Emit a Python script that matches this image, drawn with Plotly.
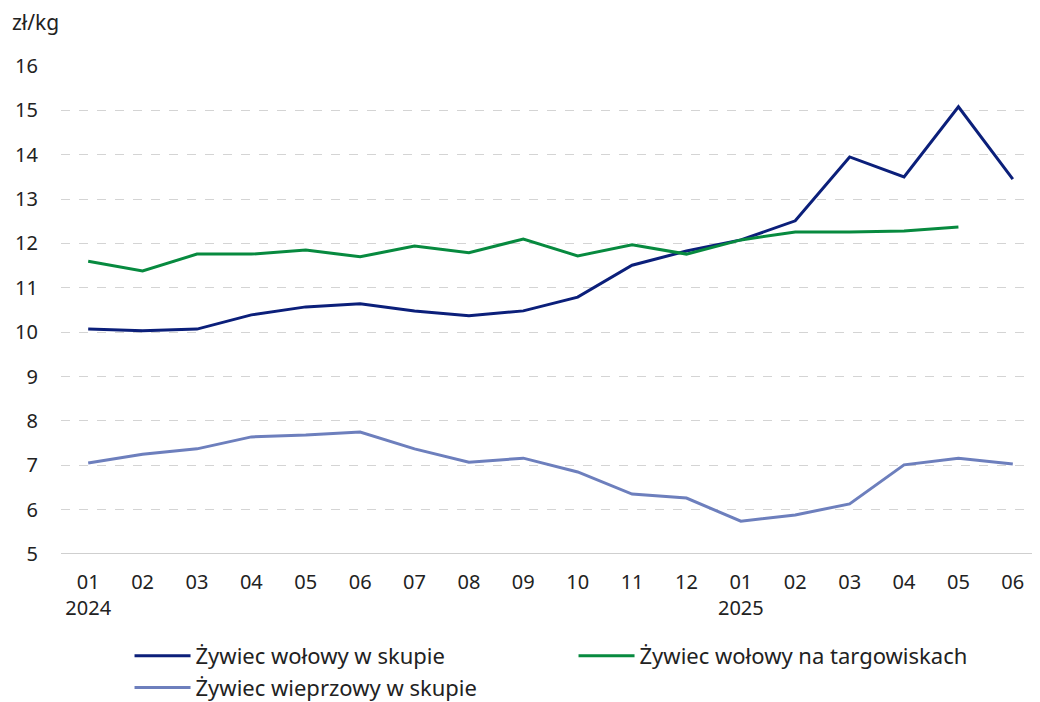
import plotly.graph_objects as go

months = ["01", "02", "03", "04", "05", "06", "07", "08", "09", "10", "11", "12",
          "01", "02", "03", "04", "05", "06"]
years = ["2024", "", "", "", "", "", "", "", "", "", "", "", "2025", "", "", "", "", ""]

beef_skup = [10.07, 10.03, 10.07, 10.39, 10.57, 10.64, 10.48, 10.37, 10.48, 10.79,
             11.51, 11.83, 12.08, 12.51, 13.95, 13.50, 15.08, 13.45]
beef_market = [11.60, 11.38, 11.76, 11.76, 11.85, 11.70, 11.94, 11.79, 12.10, 11.72,
               11.97, 11.76, 12.08, 12.26, 12.26, 12.28, 12.37, None]
pork_skup = [7.05, 7.25, 7.37, 7.64, 7.68, 7.75, 7.37, 7.07, 7.16, 6.85,
             6.35, 6.26, 5.74, 5.88, 6.13, 7.01, 7.16, 7.03]

names = ["Żywiec wołowy w skupie", "Żywiec wołowy na targowiskach", "Żywiec wieprzowy w skupie"]
colors = ["#0b1f7a", "#078a3f", "#6d7fbd"]

xs = list(range(len(months)))
ticktext = [m + ("<br>" + y if y else "") for m, y in zip(months, years)]

fig = go.Figure()
for name, vals, col in zip(names, [beef_skup, beef_market, pork_skup], colors):
    fig.add_trace(go.Scatter(x=xs, y=vals, name=name, mode="lines",
                             line=dict(color=col, width=3)))

font = "Noto Sans"
fig.update_layout(
    width=1032, height=694,
    paper_bgcolor="white", plot_bgcolor="white",
    margin=dict(l=53, r=0, t=58, b=148, autoexpand=False),
    font=dict(family=font, size=20, color="#222222"),
    showlegend=True,
    legend=dict(orientation="h", x=0.070, xanchor="left", y=-0.166, yanchor="top",
                entrywidth=373, entrywidthmode="pixels", itemwidth=56,
                font=dict(size=22, color="#222222"), traceorder="normal",
                tracegroupgap=0),
    xaxis=dict(range=[-0.5, 17.5], tickmode="array", tickvals=xs, ticktext=ticktext,
               showgrid=False, zeroline=False, showline=False, ticks="",
               tickfont=dict(size=20), ticklabelstandoff=14),
    yaxis=dict(range=[5, 16], dtick=1, showgrid=True, gridcolor="#d4d4d4",
               griddash="dash", gridwidth=1, zeroline=False, showline=False,
               ticks="", tickfont=dict(size=20), ticklabelstandoff=22),
)
# baseline at y=5
fig.add_shape(type="line", xref="paper", yref="y", x0=0, x1=1, y0=5, y1=5,
              line=dict(color="#bfbfbf", width=1.5))
fig.add_annotation(text="zł/kg", xref="paper", yref="paper", x=-0.052, y=1.09,
                   xanchor="left", yanchor="middle", showarrow=False,
                   font=dict(size=21))

fig.write_html("out.html")
